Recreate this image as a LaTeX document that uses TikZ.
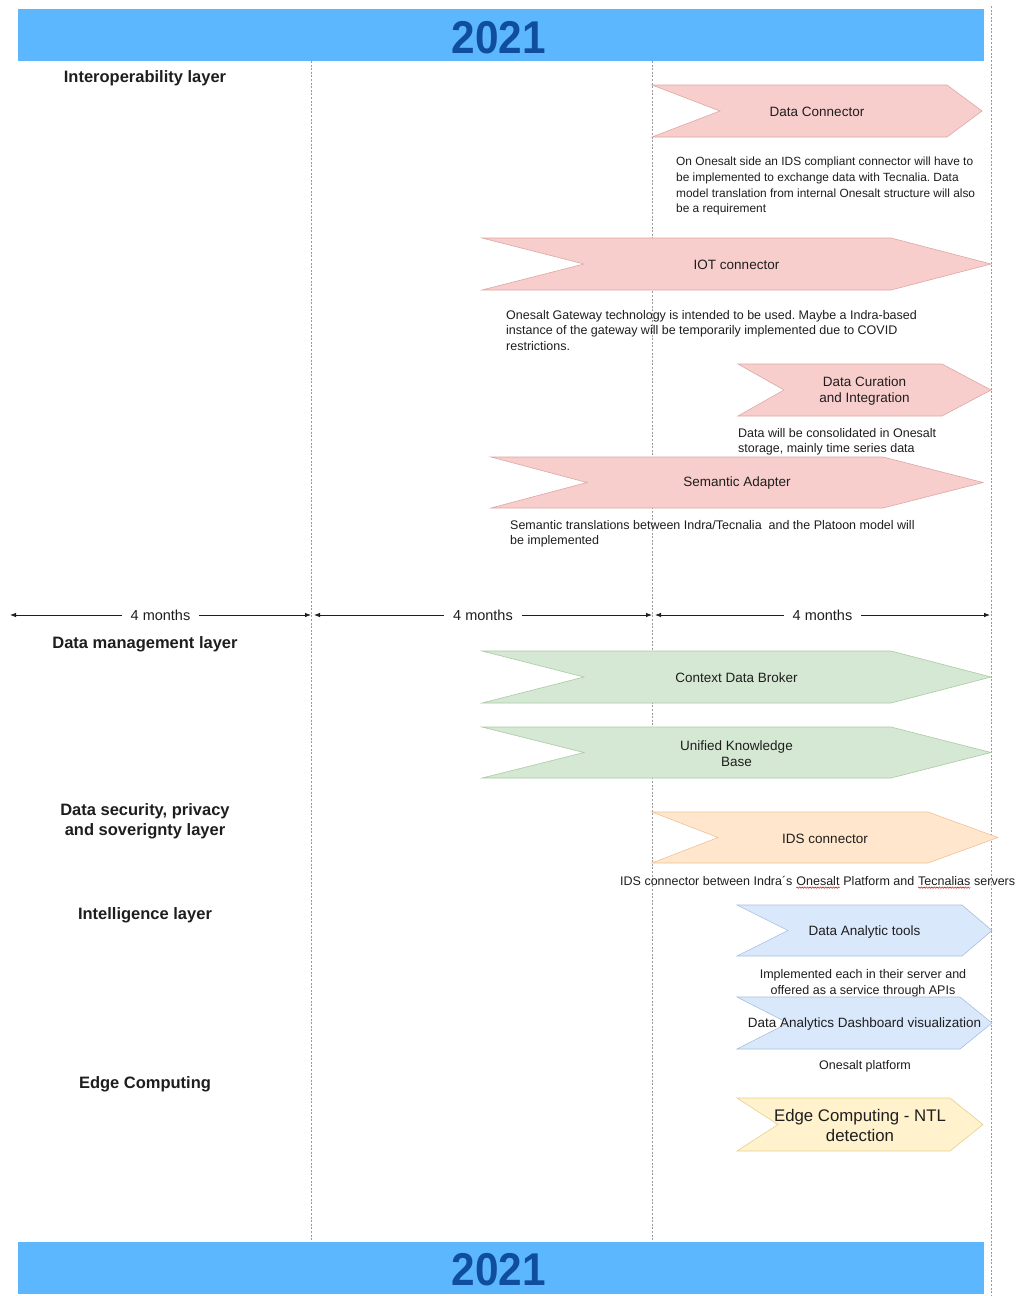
\documentclass[tikz,border=0pt]{standalone}
\usepackage{graphicx}
\usepackage{fontspec}
\setmainfont{Liberation Sans}
\usetikzlibrary{arrows.meta,decorations.pathmorphing}
\frenchspacing

\definecolor{banner}{HTML}{5DB7FE}
\definecolor{bannertext}{HTML}{0F4E9E}
\definecolor{ink}{HTML}{1E1E1E}
\definecolor{pinkfill}{HTML}{F8CECC}
\definecolor{pinkline}{HTML}{DDA7A4}
\definecolor{greenfill}{HTML}{D5E8D4}
\definecolor{greenline}{HTML}{AACBA3}
\definecolor{orangefill}{HTML}{FFE6CC}
\definecolor{orangeline}{HTML}{EDC495}
\definecolor{bluefill}{HTML}{DAE8FC}
\definecolor{blueline}{HTML}{A8BFE0}
\definecolor{yellowfill}{HTML}{FFF2CC}
\definecolor{yellowline}{HTML}{E6D08F}
\definecolor{guideline}{HTML}{9A9A9A}

\tikzset{
  chevron/.style={line width=0.6pt, line join=miter},
  pinkstep/.style={chevron, fill=pinkfill, draw=pinkline},
  greenstep/.style={chevron, fill=greenfill, draw=greenline},
  orangestep/.style={chevron, fill=orangefill, draw=orangeline},
  bluestep/.style={chevron, fill=bluefill, draw=blueline},
  yellowstep/.style={chevron, fill=yellowfill, draw=yellowline},
  chevlabel/.style={font=\fontsize{13.5}{16}\selectfont, align=center, text=ink, inner sep=0pt},
  biglabel/.style={font=\fontsize{16.8}{20}\selectfont, align=center, text=ink, inner sep=0pt},
  note/.style={font=\fontsize{12.5}{15.6}\selectfont, text=ink, inner sep=0pt},
  smallnote/.style={font=\fontsize{11.9}{15.6}\selectfont, text=ink, inner sep=0pt},
  layer/.style={font=\bfseries\fontsize{16.5}{20.5}\selectfont, align=center, text=ink, inner sep=0pt},
  guide/.style={draw=guideline, line width=0.6pt, dash pattern=on 2pt off 1.6pt},
  span/.style={{Latex[length=6pt,width=4.5pt]}-{Latex[length=6pt,width=4.5pt]}, line width=0.8pt, draw=ink},
  spanlabel/.style={fill=white, text=ink, font=\fontsize{14.5}{17}\selectfont, inner xsep=9pt, inner ysep=2pt},
  yearbar/.style={fill=banner, minimum width=966pt, minimum height=52pt, inner sep=0pt},
  yeartext/.style={font=\bfseries\fontsize{46}{50}\selectfont, text=bannertext, inner sep=0pt},
  spell/.style={draw=red!85!black, line width=0.5pt, decorate,
    decoration={snake, amplitude=0.7pt, segment length=2.6pt}}
}

% step-shaped bar: name, style, left x, notch x, corner x, tip x, top y, bottom y, label
\newcommand\stepbar[9]{%
  \path[#2] (#3,#7) -- (#5,#7) -- (#6,{(#7+#8)/2}) -- (#5,#8) -- (#3,#8)
            -- (#4,{(#7+#8)/2}) -- cycle;
  \node[chevlabel] (#1) at ({(#3+#6)/2},{(#7+#8)/2+1}) {#9};%
}

\begin{document}
\begin{tikzpicture}[x=1pt,y=-1pt]
\useasboundingbox[fill=white] (0,0) rectangle (1022,1296);

% period guides
\draw[guide] (311,61) -- (311,1241);
\draw[guide] (652,61) -- (652,1241);
\draw[guide] (991,6) -- (991,1296);

% year banners
\node[yearbar] (yeartop) at (501,35) {};
\node[yeartext] (yeartoplabel) at (499,37.5) {\scalebox{0.92}[1]{2021}};
\node[yearbar] (yearbottom) at (501,1267.5) {};
\node[yeartext] (yearbottomlabel) at (499,1270) {\scalebox{0.92}[1]{2021}};

% layer names
\node[layer] (interop) at (145,78.5) {Interoperability layer};
\node[layer] (datamgmt) at (145,644.5) {Data management layer};
\node[layer] (security) at (145,821.5) {Data security, privacy\\and soverignty layer};
\node[layer] (intel) at (145,915.5) {Intelligence layer};
\node[layer] (edgelayer) at (145,1084.5) {Edge Computing};

% interoperability layer
\stepbar{dconn}{pinkstep}{652}{720}{947}{982}{85}{137}{Data Connector}
\node[smallnote, anchor=north west, align=left] (dconnnote) at (676,157)
  {On Onesalt side an IDS compliant connector will have to\\
   be implemented to exchange data with Tecnalia. Data\\
   model translation from internal Onesalt structure will also\\
   be a requirement};

\stepbar{iot}{pinkstep}{482}{584}{891}{991}{238}{290}{IOT connector}
\node[note, anchor=north west, align=left] (iotnote) at (506,310)
  {Onesalt Gateway technology is intended to be used. Maybe a Indra-based\\
   instance of the gateway will be temporarily implemented due to COVID\\
   restrictions.};

\stepbar{dcur}{pinkstep}{738}{784}{942}{991}{364}{416}{Data Curation\\and Integration}
\node[note, anchor=north west, align=left] (dcurnote) at (738,428)
  {Data will be consolidated in Onesalt\\
   storage, mainly time series data};

\stepbar{sem}{pinkstep}{491}{587}{883}{983}{457}{508}{Semantic Adapter}
\node[note, anchor=north west, align=left] (semnote) at (510,520)
  {Semantic translations between Indra/Tecnalia\ \ and the Platoon model will\\
   be implemented};

% period spans
\coordinate (p0) at (10,615);
\coordinate (p1) at (311,615);
\coordinate (p2) at (314,615);
\coordinate (p3) at (652,615);
\coordinate (p4) at (655,615);
\coordinate (p5) at (990,615);
\draw[span] (p0) -- node[spanlabel] (m1) {4 months} (p1);
\draw[span] (p2) -- node[spanlabel] (m2) {4 months} (p3);
\draw[span] (p4) -- node[spanlabel] (m3) {4 months} (p5);

% data management layer
\stepbar{cdb}{greenstep}{482}{584}{891}{991}{651}{703}{Context Data Broker}
\stepbar{ukb}{greenstep}{482}{584}{891}{991}{727}{778}{Unified Knowledge\\Base}

% data security layer
\stepbar{ids}{orangestep}{652}{718}{928}{998}{812}{863}{IDS connector}
\node[note, anchor=base west] (idsa) at (620,885) {IDS connector between Indra´s};
\node[note, anchor=base west] (idsb) at ([xshift=3.5pt]idsa.base east) {Onesalt};
\node[note, anchor=base west] (idsc) at ([xshift=3.5pt]idsb.base east) {Platform and};
\node[note, anchor=base west] (idsd) at ([xshift=3.5pt]idsc.base east) {Tecnalias};
\node[note, anchor=base west] (idse) at ([xshift=3.5pt]idsd.base east) {servers};
\draw[spell] ([yshift=-2.6pt]idsb.base west) -- ([yshift=-2.6pt]idsb.base east);
\draw[spell] ([yshift=-2.6pt]idsd.base west) -- ([yshift=-2.6pt]idsd.base east);

% intelligence layer
\stepbar{dat}{bluestep}{737}{788}{962}{992}{905}{956}{Data Analytic tools}
\node[note, align=center] (datnote) at (863,983)
  {Implemented each in their server and\\offered as a service through APIs};
\stepbar{dadv}{bluestep}{737}{788}{960}{992}{997}{1049}{Data Analytics Dashboard visualization}
\node[note] (dadvnote) at (865,1066.5) {Onesalt platform};

% edge computing
\path[yellowstep] (737,1098) -- (950,1098) -- (983,1124.5) -- (950,1151) -- (737,1151)
  -- (778,1124.5) -- cycle;
\node[biglabel] (edge) at (860,1125.5) {Edge Computing - NTL\\detection};
\end{tikzpicture}
\end{document}
